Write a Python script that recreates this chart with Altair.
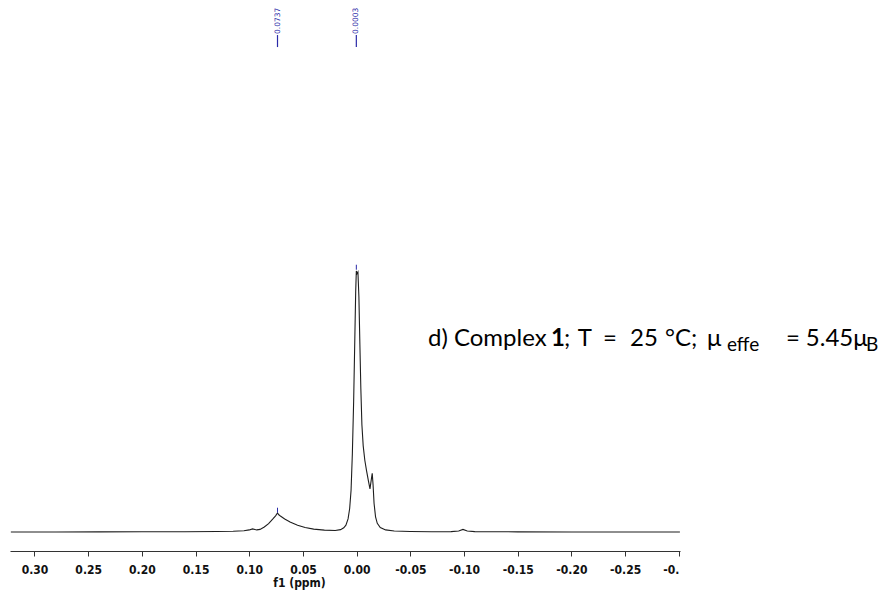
import altair as alt
import pandas as pd

# 1H NMR trace (chemical shift in ppm, relative intensity)
shift_ppm = [0.322, 0.28, 0.24, 0.20, 0.16, 0.13, 0.115, 0.105, 0.100, 0.097,
             0.093, 0.090, 0.086, 0.082, 0.078, 0.0755, 0.0737, 0.0725, 0.071, 0.067,
             0.062, 0.055, 0.048, 0.040, 0.030, 0.020, 0.015, 0.012, 0.010, 0.008,
             0.0065, 0.0052, 0.0040, 0.0028, 0.0018, 0.0009, 0.0003, -0.0004, -0.0012, -0.0021,
             -0.0030, -0.0039, -0.0049, -0.0061, -0.0076, -0.0092, -0.0110, -0.0124, -0.0136, -0.0145,
             -0.0153, -0.0162, -0.0176, -0.0192, -0.022, -0.027, -0.035, -0.050, -0.070, -0.088,
             -0.095, -0.099, -0.103, -0.110, -0.15, -0.20, -0.25, -0.301]
intensity = [0.0, 0.0, 0.05, 0.1, 0.1, 0.2, 0.3, 0.5, 0.8, 1.2,
             0.8, 1.0, 1.9, 3.2, 5.0, 6.2, 7.3, 6.6, 6.1, 5.0,
             3.8, 2.6, 1.7, 1.1, 0.7, 0.6, 0.9, 1.6, 2.6, 5.0,
             9.0, 16.0, 30.0, 50.0, 72.0, 92.0, 100.0, 99.0, 99.6, 90.0,
             72.0, 55.0, 41.0, 33.0, 27.5, 23.5, 19.5, 16.5, 20.0, 22.5,
             18.0, 11.0, 5.8, 3.3, 1.7, 0.8, 0.4, 0.2, 0.1, 0.15,
             0.4, 1.0, 0.4, 0.15, 0.05, 0.0, 0.0, 0.0]

# picked peaks
peak_ppm = [0.0737, 0.0003]
peak_top = [7.3, 100.4]
peak_labels = ["0.0737", "0.0003"]

# axis ticks
major_ticks = [0.30, 0.25, 0.20, 0.15, 0.10, 0.05, 0.00,
               -0.05, -0.10, -0.15, -0.20, -0.25, -0.30]
minor_ticks = [0.275, 0.225, 0.175, 0.125, 0.075, 0.025,
               -0.025, -0.075, -0.125, -0.175, -0.225, -0.275]

# annotation pieces: text, x (ppm), y (intensity), style
note_text = ["d) Complex", "1", ";", "T", "=", "25", "°C;", "μ", "effe", "=", "5.45μ", "B"]
note_x = [-0.0664, -0.1809, -0.1930, -0.2060, -0.2293, -0.2545, -0.2871,
          -0.3262, -0.3448, -0.3997, -0.4183, -0.4742]
note_y = [71.1, 71.1, 71.1, 71.1, 71.1, 71.1, 71.1, 71.1, 69.5, 71.1, 71.1, 69.5]
note_style = ["main", "bold", "main", "main", "main", "main", "main", "main",
              "sub", "main", "main", "sub"]

BLUE = "#2a2aa8"
X_DOMAIN = [0.3228, -0.3011]
Y_DOMAIN = [-7.28, 203.83]

spec = pd.DataFrame({"ppm": shift_ppm, "inten": intensity})
peaks = pd.DataFrame({
    "ppm": peak_ppm,
    "lo": [t + 0.1 for t in peak_top],
    "hi": [t + 2.0 for t in peak_top],
    "label": peak_labels,
    "lab_lo": [185.8] * len(peak_ppm),
    "lab_hi": [190.4] * len(peak_ppm),
    "lab_y": [190.8] * len(peak_ppm),
})
notes = pd.DataFrame({"text": note_text, "ppm": note_x, "inten": note_y, "style": note_style})

xscale = alt.Scale(domain=X_DOMAIN, nice=False, zero=False)
yscale = alt.Scale(domain=Y_DOMAIN, nice=False, zero=False)

is_major = "abs(datum.value*20 - round(datum.value*20)) < 0.01"
x_axis = alt.Axis(
    values=sorted(major_ticks + minor_ticks, reverse=True),
    title="f1 (ppm)",
    titleFont="DejaVu Sans Condensed, DejaVu Sans",
    titleFontWeight="bold",
    titleFontSize=12,
    titleColor="#111111",
    titleX=289,
    titleY=35,
    titleAlign="center",
    titleBaseline="alphabetic",
    titleAnchor="start",
    labelExpr=("(" + is_major + ") ? (datum.value < -0.29 ? '-0.' : "
               "((datum.value < -0.001 ? '-' : '') + format(abs(datum.value), '.2f'))) : ''"),
    labelFont="DejaVu Sans Condensed, DejaVu Sans",
    labelFontWeight="bold",
    labelFontSize=12,
    labelColor="#111111",
    labelPadding=8,
    labelOverlap=False,
    labelFlush=False,
    labelBound=False,
    labelAlign={"condition": {"test": "datum.value < -0.29", "value": "right"}, "value": "center"},
    tickSize={"condition": {"test": is_major, "value": 5}, "value": 3},
    tickColor="#333333",
    tickWidth=1,
    domainColor="#333333",
    domainWidth=1,
    grid=False,
)

line = alt.Chart(spec).mark_line(color="#1e1e1e", strokeWidth=1.1).encode(
    x=alt.X("ppm:Q", scale=xscale, axis=x_axis),
    y=alt.Y("inten:Q", scale=yscale, axis=None),
    order="ppm:Q",
)

base_peaks = alt.Chart(peaks)
peak_marks = base_peaks.mark_rule(color=BLUE, strokeWidth=1).encode(
    x=alt.X("ppm:Q", scale=xscale), y=alt.Y("lo:Q", scale=yscale), y2="hi:Q"
)
label_lines = base_peaks.mark_rule(color=BLUE, strokeWidth=1.2).encode(
    x=alt.X("ppm:Q", scale=xscale), y=alt.Y("lab_lo:Q", scale=yscale), y2="lab_hi:Q"
)
label_text = base_peaks.mark_text(
    angle=270, align="left", baseline="middle", fontSize=7.5,
    font="DejaVu Sans", color=BLUE,
).encode(
    x=alt.X("ppm:Q", scale=xscale), y=alt.Y("lab_y:Q", scale=yscale), text="label:N"
)

note_base = alt.Chart(notes)
font_txt = "Lato"
note_main = note_base.transform_filter(alt.datum.style == "main").mark_text(
    align="left", baseline="alphabetic", fontSize=24, font=font_txt, color="#000000"
).encode(x=alt.X("ppm:Q", scale=xscale), y=alt.Y("inten:Q", scale=yscale), text="text:N")
note_bold = note_base.transform_filter(alt.datum.style == "bold").mark_text(
    align="left", baseline="alphabetic", fontSize=24, font=font_txt, fontWeight="bold", color="#000000"
).encode(x=alt.X("ppm:Q", scale=xscale), y=alt.Y("inten:Q", scale=yscale), text="text:N")
note_sub = note_base.transform_filter(alt.datum.style == "sub").mark_text(
    align="left", baseline="alphabetic", fontSize=19, font=font_txt, color="#000000"
).encode(x=alt.X("ppm:Q", scale=xscale), y=alt.Y("inten:Q", scale=yscale), text="text:N")

chart = alt.layer(
    line, peak_marks, label_lines, label_text, note_main, note_bold, note_sub
).properties(
    width=670,
    height=551,
    autosize=alt.AutoSizeParams(type="none"),
    padding={"left": 10, "top": 0, "right": 205, "bottom": 41},
    background="#ffffff",
).configure_view(stroke=None)

chart.save("out.html", embed_options={"renderer": "svg", "actions": False})
